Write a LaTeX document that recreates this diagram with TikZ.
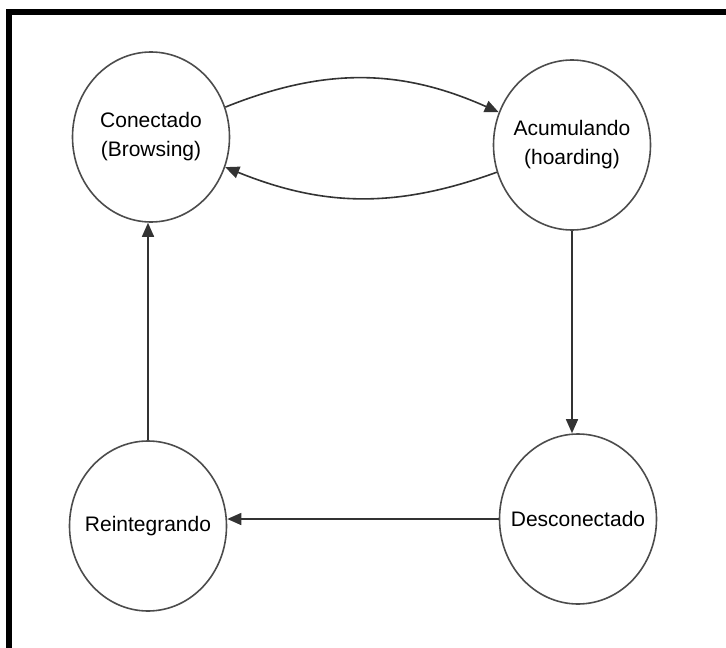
\documentclass[tikz,border=0pt]{standalone}
\usepackage{fontspec}
\setmainfont{Liberation Sans}
\usepackage{tikz}
\usetikzlibrary{shapes.geometric,arrows.meta}

\begin{document}
\begin{tikzpicture}[
    x=1pt, y=-1pt,
    estado/.style={draw=black!70, line width=1.6pt, ellipse, minimum width=157pt,
        minimum height=170pt, inner xsep=-16pt, inner ysep=0pt, align=center,
        font=\fontsize{21}{29}\selectfont},
    flecha/.style={draw=black!80, line width=1.6pt, -{Triangle[length=14pt, width=12pt]}}
]
\useasboundingbox (0,0) rectangle (726,648);
\draw[line width=6pt] (9,648) -- (9,12) -- (726,12);

\node[estado] (con) at (151,137) {Conectado\\(Browsing)};
\node[estado] (acu) at (572,145) {Acumulando\\(hoarding)};
\node[estado] (des) at (578,519) {Desconectado};
\node[estado] (rei) at (148,526) {Reintegrando};

\draw[flecha] (con) to[bend left=23] (acu);
\draw[flecha] (acu) to[bend left=21] (con);
\draw[flecha] (acu.south) -- (acu.south |- des.north);
\draw[flecha] (des.west) -- (des.west -| rei.east);
\draw[flecha] (rei.north) -- (rei.north |- con.south);
\end{tikzpicture}
\end{document}
